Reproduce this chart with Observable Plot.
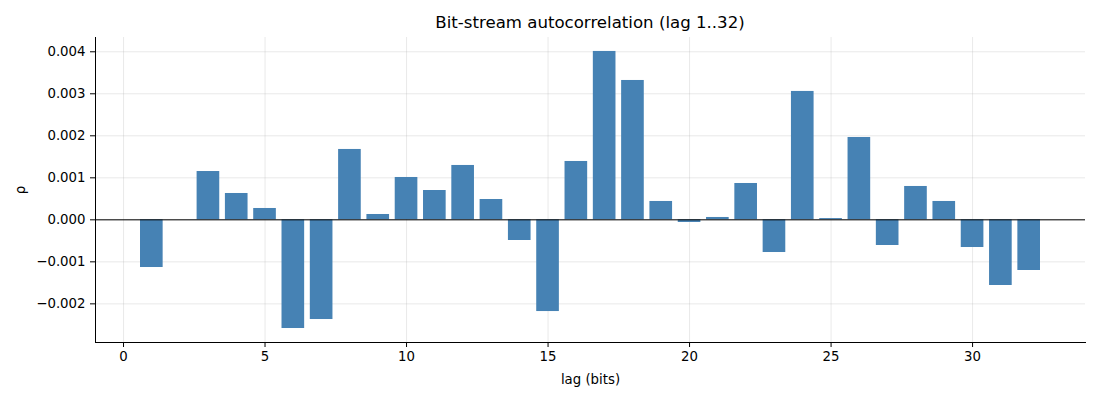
<!DOCTYPE html>
<html>
<head>
<meta charset="utf-8">
<script src="https://cdn.jsdelivr.net/npm/d3@7"></script>
<script src="https://cdn.jsdelivr.net/npm/@observablehq/plot@0.6"></script>
<style>
  body { margin: 0; background: #fff; font-family: "DejaVu Sans", sans-serif; }
  #title { height: 30px; width: 1100px; position: relative; }
  #title span { position: absolute; left: 590px; top: 15px; transform: translate(-50%, 0); font-family: "DejaVu Sans", sans-serif; font-size: 16.6px; color: #000; white-space: nowrap; line-height: 1; }
  #chart svg, #chart svg text, #chart svg g { font-family: "DejaVu Sans", sans-serif !important; font-size: 13.3px !important; }
  #chart svg text { fill: #000; }
</style>
</head>
<body>
<div id="title"><span>Bit-stream autocorrelation (lag 1..32)</span></div>
<div id="chart"></div>
<script>
const lags = d3.range(1, 33);
const rho = [
  -0.001135, 0.0, 0.00115, 0.000627, 0.00027, -0.002587, -0.002373, 0.001675,
  0.000127, 0.001008, 0.000698, 0.001294, 0.000484, -0.000492, -0.002183, 0.001389,
  0.004008, 0.003317, 0.000437, -0.000063, 0.000056, 0.000865, -0.000778, 0.003056,
  0.00003, 0.00196, -0.000611, 0.000794, 0.000437, -0.000659, -0.001563, -0.001206
];
const xTicks = [0, 5, 10, 15, 20, 25, 30];
const yTicks = [-0.002, -0.001, 0, 0.001, 0.002, 0.003, 0.004];
const xDomain = [-0.99, 33.99];
const yDomain = [-0.00292, 0.00434];
const barHalfWidth = 0.4;

const data = lags.map((l, i) => ({lag: l, rho: rho[i]}));

const chart = Plot.plot({
  width: 1100,
  height: 370,
  marginTop: 7,
  marginLeft: 95,
  marginRight: 15,
  marginBottom: 58,
  style: {fontFamily: "DejaVu Sans, sans-serif", fontSize: "13.3px", color: "#000", background: "#fff"},
  x: {domain: xDomain},
  y: {domain: yDomain},
  marks: [
    Plot.gridX(xTicks, {stroke: "#b0b0b0", strokeOpacity: 0.35, strokeWidth: 0.8}),
    Plot.gridY(yTicks, {stroke: "#b0b0b0", strokeOpacity: 0.35, strokeWidth: 0.8}),
    Plot.rectY(data, {x1: d => d.lag - barHalfWidth, x2: d => d.lag + barHalfWidth, y1: 0, y2: "rho", fill: "#4682b4"}),
    Plot.ruleY([0], {stroke: "#000", strokeWidth: 1}),
    Plot.frame({anchor: "left", stroke: "#000", strokeWidth: 1}),
    Plot.frame({anchor: "bottom", stroke: "#000", strokeWidth: 1}),
    Plot.axisX({ticks: xTicks, tickSize: 5, tickPadding: 4, fontSize: 13.3, label: "lag (bits)", labelAnchor: "center", labelOffset: 41, labelArrow: "none"}),
    Plot.axisY({ticks: yTicks, tickSize: 5, tickPadding: 5, fontSize: 13.3, tickFormat: d3.format(".3f"), label: "ρ", labelAnchor: "center", labelOffset: 80, labelArrow: "none"})
  ]
});
document.getElementById("chart").appendChild(chart);
</script>
</body>
</html>
